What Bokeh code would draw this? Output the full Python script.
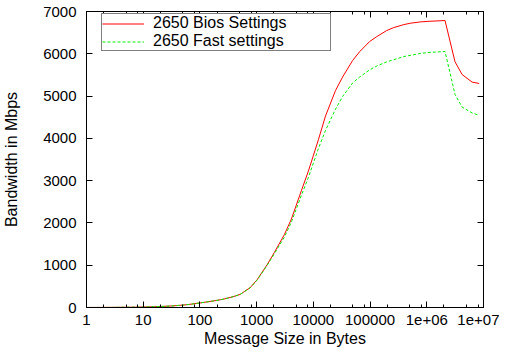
from bokeh.plotting import figure
from bokeh.models import Range1d, FixedTicker, LinearAxis, LogAxis, Legend, LegendItem
from bokeh.embed import file_html
from bokeh.resources import INLINE

# ---- data ----
sizes = [1, 2, 3, 4, 6, 8, 12, 16, 24, 32, 48, 64, 96, 128, 192, 256, 384, 512, 768, 1024,
         1536, 2048, 3072, 4096, 6144, 8192, 12288, 16384, 24576, 32768, 49152, 65536,
         98304, 131072, 196608, 262144, 393216, 524288, 786432, 1048576, 1572864, 2097152,
         3145728, 4194304, 6291456, 8388608]

bios = [1, 2, 3, 5, 7, 9, 14, 19, 28, 37, 55, 72, 104, 128, 165, 195, 255, 310, 470, 660,
        1015, 1300, 1720, 2090, 2760, 3230, 3970, 4530, 5130, 5450, 5840, 6050, 6290, 6405,
        6550, 6620, 6690, 6725, 6755, 6767, 6778, 6787, 5811, 5510, 5330, 5298]

fast = [1, 2, 3, 5, 7, 9, 14, 19, 28, 37, 55, 72, 104, 128, 165, 195, 255, 310, 465, 650,
        1000, 1270, 1660, 2020, 2650, 3080, 3760, 4190, 4690, 4990, 5310, 5450, 5620, 5710,
        5810, 5860, 5935, 5965, 6010, 6030, 6045, 6054, 5040, 4740, 4600, 4545]

series_names = ["2650 Bios Settings", "2650 Fast settings"]

x_ticks = [1, 10, 100, 1000, 10000, 100000, 1000000, 10000000]
x_tick_labels = ["1", "10", "100", "1000", "10000", "100000", "1e+06", "1e+07"]
x_minor_mult = [2, 5, 8]
y_ticks = [0, 1000, 2000, 3000, 4000, 5000, 6000, 7000]

x_minor = [m * t for t in x_ticks[:-1] for m in x_minor_mult]

FONT = "Liberation Sans"
TICK_FS = "15px"
FS = "16px"

p = figure(width=499, height=352, x_axis_type="log",
           x_range=Range1d(1, 10000000), y_range=Range1d(0, 7000),
           output_backend="svg", toolbar_location=None,
           min_border_left=82, min_border_right=16, min_border_top=11, min_border_bottom=45)

p.xgrid.visible = False
p.ygrid.visible = False
p.outline_line_color = "black"
p.outline_line_width = 1
p.background_fill_color = "white"
p.border_fill_color = "white"

xticker = FixedTicker(ticks=x_ticks, minor_ticks=x_minor)
yticker = FixedTicker(ticks=y_ticks, minor_ticks=[])

def style_axis(ax):
    ax.axis_line_color = "black"
    ax.axis_line_width = 1
    ax.major_tick_line_color = "black"
    ax.minor_tick_line_color = "black"
    ax.major_tick_in = 6
    ax.major_tick_out = 0
    ax.minor_tick_in = 3
    ax.minor_tick_out = 0
    ax.major_label_text_font = FONT
    ax.major_label_text_font_size = TICK_FS
    ax.major_label_text_color = "black"
    ax.axis_label_text_font = FONT
    ax.axis_label_text_font_size = FS
    ax.axis_label_text_font_style = "normal"
    ax.axis_label_text_color = "black"

xa = p.xaxis[0]
xa.ticker = xticker
xa.major_label_overrides = {t: lab for t, lab in zip(x_ticks, x_tick_labels)}
style_axis(xa)
xa.major_label_standoff = 7
xa.axis_label = "Message Size in Bytes"
xa.axis_label_standoff = 2

ya = p.yaxis[0]
ya.ticker = yticker
style_axis(ya)
ya.major_label_standoff = 10
ya.axis_label = "Bandwidth in Mbps"
ya.axis_label_standoff = 20

top = LogAxis(ticker=xticker)
style_axis(top)
top.major_label_text_font_size = "1px"
top.major_label_standoff = 0
top.major_label_overrides = {t: "" for t in x_ticks}
p.add_layout(top, "above")

right = LinearAxis(ticker=yticker)
style_axis(right)
right.major_label_text_font_size = "1px"
right.major_label_standoff = 0
right.major_label_overrides = {t: "" for t in y_ticks}
p.add_layout(right, "right")

r1 = p.line(sizes, bios, line_color="#ff0000", line_width=1)
r2 = p.line(sizes, fast, line_color="#00ee00", line_width=1, line_dash="3 2")

legend = Legend(items=[LegendItem(label=series_names[0], renderers=[r1]),
                       LegendItem(label=series_names[1], renderers=[r2])],
                location=(15, 256), orientation="vertical",
                padding=0, spacing=0, margin=0,
                glyph_width=42, glyph_height=17, label_height=17,
                label_standoff=9, label_width=177,
                label_text_font=FONT, label_text_font_size=FS,
                label_text_color="black",
                border_line_color="black", border_line_width=1,
                background_fill_color="white", background_fill_alpha=1)
p.add_layout(legend, "center")

open("out.html", "w").write(file_html(p, INLINE))
